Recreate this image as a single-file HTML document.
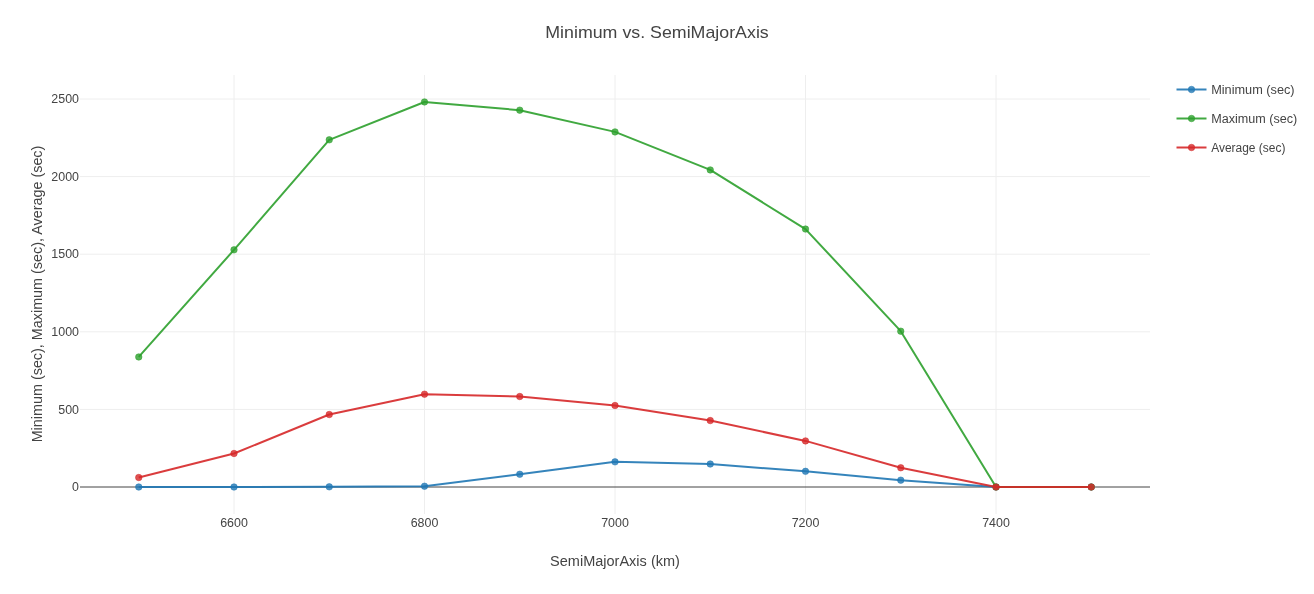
<!DOCTYPE html>
<html><head><meta charset="utf-8"><title>Minimum vs. SemiMajorAxis</title>
<style>
html,body{margin:0;padding:0;background:#fff;}
body{width:1314px;height:594px;overflow:hidden;}
svg{display:block;}
text{font-family:"Liberation Sans",sans-serif;fill:#444;}
</style></head><body>
<svg width="1314" height="594" viewBox="0 0 1314 594">
<rect x="0" y="0" width="1314" height="594" fill="#fff"/>

<g stroke="#eee" stroke-width="1" fill="none">
<line x1="234.00" y1="75" x2="234.00" y2="514"/>
<line x1="424.50" y1="75" x2="424.50" y2="514"/>
<line x1="615.00" y1="75" x2="615.00" y2="514"/>
<line x1="805.50" y1="75" x2="805.50" y2="514"/>
<line x1="996.00" y1="75" x2="996.00" y2="514"/>
<line x1="80" y1="409.40" x2="1150" y2="409.40"/>
<line x1="80" y1="331.80" x2="1150" y2="331.80"/>
<line x1="80" y1="254.20" x2="1150" y2="254.20"/>
<line x1="80" y1="176.60" x2="1150" y2="176.60"/>
<line x1="80" y1="99.00" x2="1150" y2="99.00"/>
</g>
<line x1="80" y1="487.00" x2="1150" y2="487.00" stroke="#444" stroke-width="1"/>
<polyline points="138.75,487.00 234.00,487.00 329.25,486.84 424.50,486.22 519.75,474.27 615.00,461.86 710.25,464.03 805.50,471.32 900.75,480.17 996.00,487.00 1091.25,487.00" fill="none" stroke="rgba(31,119,180,0.9)" stroke-width="2" stroke-linejoin="round"/>
<g fill="rgba(31,119,180,0.8)" stroke="rgba(31,119,180,0.5)" stroke-width="1.0">
<circle cx="138.75" cy="487.00" r="3.25"/>
<circle cx="234.00" cy="487.00" r="3.25"/>
<circle cx="329.25" cy="486.84" r="3.25"/>
<circle cx="424.50" cy="486.22" r="3.25"/>
<circle cx="519.75" cy="474.27" r="3.25"/>
<circle cx="615.00" cy="461.86" r="3.25"/>
<circle cx="710.25" cy="464.03" r="3.25"/>
<circle cx="805.50" cy="471.32" r="3.25"/>
<circle cx="900.75" cy="480.17" r="3.25"/>
<circle cx="996.00" cy="487.00" r="3.25"/>
<circle cx="1091.25" cy="487.00" r="3.25"/>
</g>
<polyline points="138.75,356.94 234.00,249.85 329.25,139.82 424.50,101.95 519.75,110.17 615.00,131.90 710.25,169.93 805.50,229.06 900.75,331.18 996.00,487.00 1091.25,487.00" fill="none" stroke="rgba(44,160,44,0.9)" stroke-width="2" stroke-linejoin="round"/>
<g fill="rgba(44,160,44,0.8)" stroke="rgba(44,160,44,0.5)" stroke-width="1.0">
<circle cx="138.75" cy="356.94" r="3.25"/>
<circle cx="234.00" cy="249.85" r="3.25"/>
<circle cx="329.25" cy="139.82" r="3.25"/>
<circle cx="424.50" cy="101.95" r="3.25"/>
<circle cx="519.75" cy="110.17" r="3.25"/>
<circle cx="615.00" cy="131.90" r="3.25"/>
<circle cx="710.25" cy="169.93" r="3.25"/>
<circle cx="805.50" cy="229.06" r="3.25"/>
<circle cx="900.75" cy="331.18" r="3.25"/>
<circle cx="996.00" cy="487.00" r="3.25"/>
<circle cx="1091.25" cy="487.00" r="3.25"/>
</g>
<polyline points="138.75,477.53 234.00,453.48 329.25,414.52 424.50,394.19 519.75,396.52 615.00,405.52 710.25,420.57 805.50,440.91 900.75,467.76 996.00,487.00 1091.25,487.00" fill="none" stroke="rgba(214,39,40,0.9)" stroke-width="2" stroke-linejoin="round"/>
<g fill="rgba(214,39,40,0.8)" stroke="rgba(214,39,40,0.5)" stroke-width="1.0">
<circle cx="138.75" cy="477.53" r="3.25"/>
<circle cx="234.00" cy="453.48" r="3.25"/>
<circle cx="329.25" cy="414.52" r="3.25"/>
<circle cx="424.50" cy="394.19" r="3.25"/>
<circle cx="519.75" cy="396.52" r="3.25"/>
<circle cx="615.00" cy="405.52" r="3.25"/>
<circle cx="710.25" cy="420.57" r="3.25"/>
<circle cx="805.50" cy="440.91" r="3.25"/>
<circle cx="900.75" cy="467.76" r="3.25"/>
<circle cx="996.00" cy="487.00" r="3.25"/>
<circle cx="1091.25" cy="487.00" r="3.25"/>
</g>
<g font-size="12" text-anchor="middle">
<text x="234.00" y="527" textLength="27.7" lengthAdjust="spacingAndGlyphs">6600</text>
<text x="424.50" y="527" textLength="27.7" lengthAdjust="spacingAndGlyphs">6800</text>
<text x="615.00" y="527" textLength="27.7" lengthAdjust="spacingAndGlyphs">7000</text>
<text x="805.50" y="527" textLength="27.7" lengthAdjust="spacingAndGlyphs">7200</text>
<text x="996.00" y="527" textLength="27.7" lengthAdjust="spacingAndGlyphs">7400</text>
</g>
<g font-size="12" text-anchor="end">
<text x="79" y="491.20" textLength="6.9" lengthAdjust="spacingAndGlyphs">0</text>
<text x="79" y="413.60" textLength="20.75" lengthAdjust="spacingAndGlyphs">500</text>
<text x="79" y="336.00" textLength="27.7" lengthAdjust="spacingAndGlyphs">1000</text>
<text x="79" y="258.40" textLength="27.7" lengthAdjust="spacingAndGlyphs">1500</text>
<text x="79" y="180.80" textLength="27.7" lengthAdjust="spacingAndGlyphs">2000</text>
<text x="79" y="103.20" textLength="27.7" lengthAdjust="spacingAndGlyphs">2500</text>
</g>
<text x="657" y="37.7" font-size="17" text-anchor="middle" textLength="223.5" lengthAdjust="spacingAndGlyphs">Minimum vs. SemiMajorAxis</text>
<text x="615" y="565.7" font-size="14" text-anchor="middle" textLength="129.8" lengthAdjust="spacingAndGlyphs">SemiMajorAxis (km)</text>
<text transform="translate(41.8,294) rotate(-90)" font-size="14" text-anchor="middle" textLength="296.7" lengthAdjust="spacingAndGlyphs">Minimum (sec), Maximum (sec), Average (sec)</text>
<line x1="1176.5" y1="89.50" x2="1206.5" y2="89.50" stroke="rgba(31,119,180,0.9)" stroke-width="2"/>
<circle cx="1191.5" cy="89.50" r="3.25" fill="rgba(31,119,180,0.8)" stroke="rgba(31,119,180,0.5)" stroke-width="1.0"/>
<text x="1211.2" y="93.80" font-size="12" textLength="83.4" lengthAdjust="spacingAndGlyphs">Minimum (sec)</text>
<line x1="1176.5" y1="118.50" x2="1206.5" y2="118.50" stroke="rgba(44,160,44,0.9)" stroke-width="2"/>
<circle cx="1191.5" cy="118.50" r="3.25" fill="rgba(44,160,44,0.8)" stroke="rgba(44,160,44,0.5)" stroke-width="1.0"/>
<text x="1211.2" y="122.80" font-size="12" textLength="86.1" lengthAdjust="spacingAndGlyphs">Maximum (sec)</text>
<line x1="1176.5" y1="147.50" x2="1206.5" y2="147.50" stroke="rgba(214,39,40,0.9)" stroke-width="2"/>
<circle cx="1191.5" cy="147.50" r="3.25" fill="rgba(214,39,40,0.8)" stroke="rgba(214,39,40,0.5)" stroke-width="1.0"/>
<text x="1211.2" y="151.80" font-size="12" textLength="74.2" lengthAdjust="spacingAndGlyphs">Average (sec)</text>
</svg>
</body></html>
